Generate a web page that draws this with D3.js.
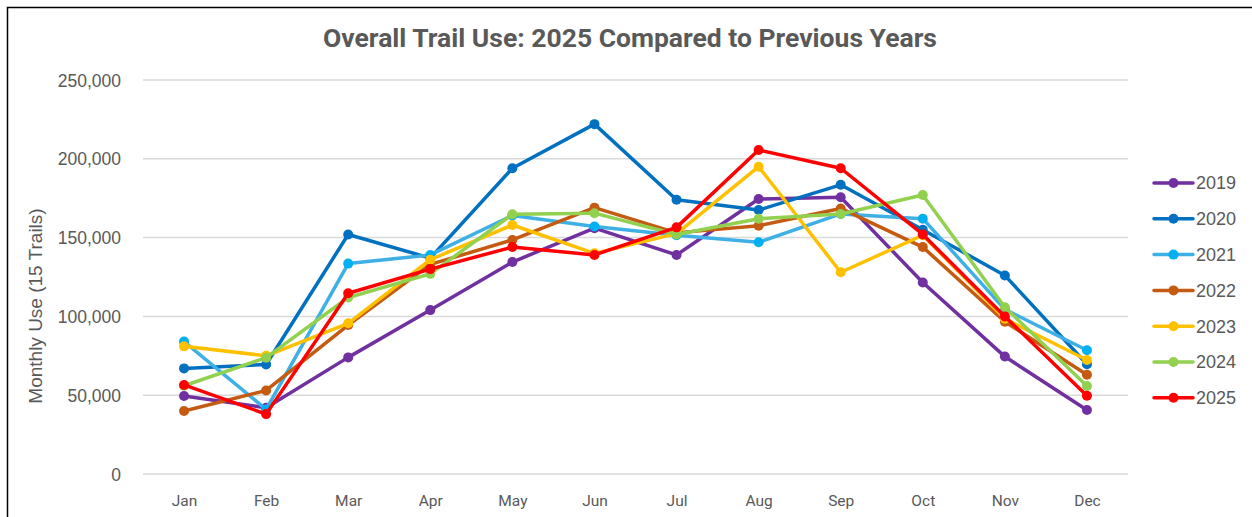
<!DOCTYPE html>
<html>
<head>
<meta charset="utf-8">
<script src="https://cdn.jsdelivr.net/npm/d3@7"></script>
<style>
  body { margin: 0; background: #fff; }
  svg { display: block; }
</style>
</head>
<body>
<div id="chart"></div>
<script>
// DATA
const months = ['Jan', 'Feb', 'Mar', 'Apr', 'May', 'Jun', 'Jul', 'Aug', 'Sep', 'Oct', 'Nov', 'Dec'];
const yTicks = [0, 50000, 100000, 150000, 200000, 250000];

const y2019 = [49500, 42000, 74000, 104000, 134500, 156000, 139000, 174500, 175600, 121500, 74500, 40600];
const y2020 = [67000, 69500, 152000, 137000, 194000, 222000, 174000, 167500, 183500, 155000, 126000, 69600];
const y2021 = [84000, 41000, 133500, 139000, 164000, 157000, 151500, 147000, 165000, 162000, 104500, 78500];
const y2022 = [40000, 53000, 94500, 133000, 148500, 169000, 153000, 157500, 168500, 144000, 96600, 63000];
const y2023 = [81000, 75000, 95600, 136000, 158000, 140000, 152500, 195000, 128000, 151500, 98500, 72300];
const y2024 = [56000, 73800, 112000, 127000, 164800, 165500, 152000, 162000, 165000, 177000, 105800, 55800];
const y2025 = [56500, 38000, 114700, 130000, 144000, 139000, 156500, 205600, 194000, 152000, 100000, 49700];

const seriesNames = ['2019', '2020', '2021', '2022', '2023', '2024', '2025'];
const seriesColors = ['#7030a0', '#0070c0', '#3fb0e6', '#c55a11', '#ffc000', '#92d050', '#ff0000'];
const markerColors = ['#7030a0', '#0070c0', '#00b0f0', '#c55a11', '#ffc000', '#92d050', '#ff0000'];

const series = [y2019, y2020, y2021, y2022, y2023, y2024, y2025].map((vals, i) => ({
  name: seriesNames[i],
  color: seriesColors[i],
  marker: markerColors[i],
  values: vals
}));

const width = 1252;
const height = 517;
const margin = { top: 80, right: 124, bottom: 43, left: 143 };

const svg = d3.select('#chart')
  .append('svg')
  .attr('width', width)
  .attr('height', height);

// border (only top + left are visible in frame)
svg.append('rect')
  .attr('x', 7.5).attr('y', 7.5)
  .attr('width', width + 20).attr('height', height + 20)
  .attr('fill', 'none')
  .attr('stroke', '#000')
  .attr('stroke-width', 1.5);

// TITLE
svg.append('text')
  .attr('x', 630)
  .attr('y', 47)
  .attr('text-anchor', 'middle')
  .attr('font-family', 'Roboto, sans-serif')
  .attr('font-weight', 'bold')
  .attr('font-size', 26.5)
  .attr('fill', '#595959')
  .text('Overall Trail Use: 2025 Compared to Previous Years');

// SCALES
const xBand = d3.scalePoint()
  .domain(months)
  .range([margin.left, width - margin.right])
  .padding(0.5);

const yScale = d3.scaleLinear()
  .domain([0, 250000])
  .range([height - margin.bottom, margin.top]);

// GRID
svg.append('g')
  .selectAll('line')
  .data(yTicks)
  .enter()
  .append('line')
  .attr('x1', margin.left)
  .attr('x2', width - margin.right)
  .attr('y1', d => yScale(d))
  .attr('y2', d => yScale(d))
  .attr('stroke', '#d9d9d9')
  .attr('stroke-width', 1.5);

// Y AXIS
const yAxis = svg.append('g')
  .attr('transform', `translate(${margin.left - 19},0)`)
  .call(d3.axisLeft(yScale).tickValues(yTicks).tickSize(0).tickFormat(d3.format(',')));
yAxis.select('.domain').remove();
yAxis.selectAll('text')
  .attr('font-family', '"Liberation Sans", Arial, sans-serif')
  .attr('font-size', 17.5)
  .attr('fill', '#595959')
  .attr('dy', '0.35em');

// X AXIS
const xAxis = svg.append('g')
  .attr('transform', `translate(0,${height - margin.bottom})`)
  .call(d3.axisBottom(xBand).tickSize(0));
xAxis.select('.domain').remove();
xAxis.selectAll('text')
  .attr('font-family', 'Roboto, sans-serif')
  .attr('font-size', 15.5)
  .attr('fill', '#595959')
  .attr('dy', '1.9em');

// Y TITLE
svg.append('text')
  .attr('transform', 'translate(42,306) rotate(-90)')
  .attr('text-anchor', 'middle')
  .attr('font-family', '"Liberation Sans", Arial, sans-serif')
  .attr('font-size', 19)
  .attr('fill', '#595959')
  .text('Monthly Use (15 Trails)');

// LINES
const line = d3.line()
  .x((d, i) => xBand(months[i]))
  .y(d => yScale(d));

series.forEach(s => {
  svg.append('path')
    .datum(s.values)
    .attr('fill', 'none')
    .attr('stroke', s.color)
    .attr('stroke-width', 3.5)
    .attr('stroke-linejoin', 'round')
    .attr('d', line);

  svg.append('g')
    .selectAll('circle')
    .data(s.values)
    .enter()
    .append('circle')
    .attr('cx', (d, i) => xBand(months[i]))
    .attr('cy', d => yScale(d))
    .attr('r', 5)
    .attr('fill', s.marker);
});

// LEGEND
const legend = svg.append('g')
  .attr('transform', 'translate(1154,183)');

series.forEach((s, i) => {
  const g = legend.append('g').attr('transform', `translate(0,${i * 35.8})`);
  g.append('line')
    .attr('x1', 0).attr('x2', 39)
    .attr('y1', 0).attr('y2', 0)
    .attr('stroke', s.color)
    .attr('stroke-width', 3.5)
    .attr('stroke-linecap', 'round');
  g.append('circle')
    .attr('cx', 19.5).attr('cy', 0)
    .attr('r', 5)
    .attr('fill', s.marker);
  g.append('text')
    .attr('x', 42)
    .attr('y', 0)
    .attr('dy', '0.35em')
    .attr('font-family', '"Liberation Sans", Arial, sans-serif')
    .attr('font-size', 18)
    .attr('fill', '#595959')
    .text(s.name);
});
</script>
</body>
</html>
